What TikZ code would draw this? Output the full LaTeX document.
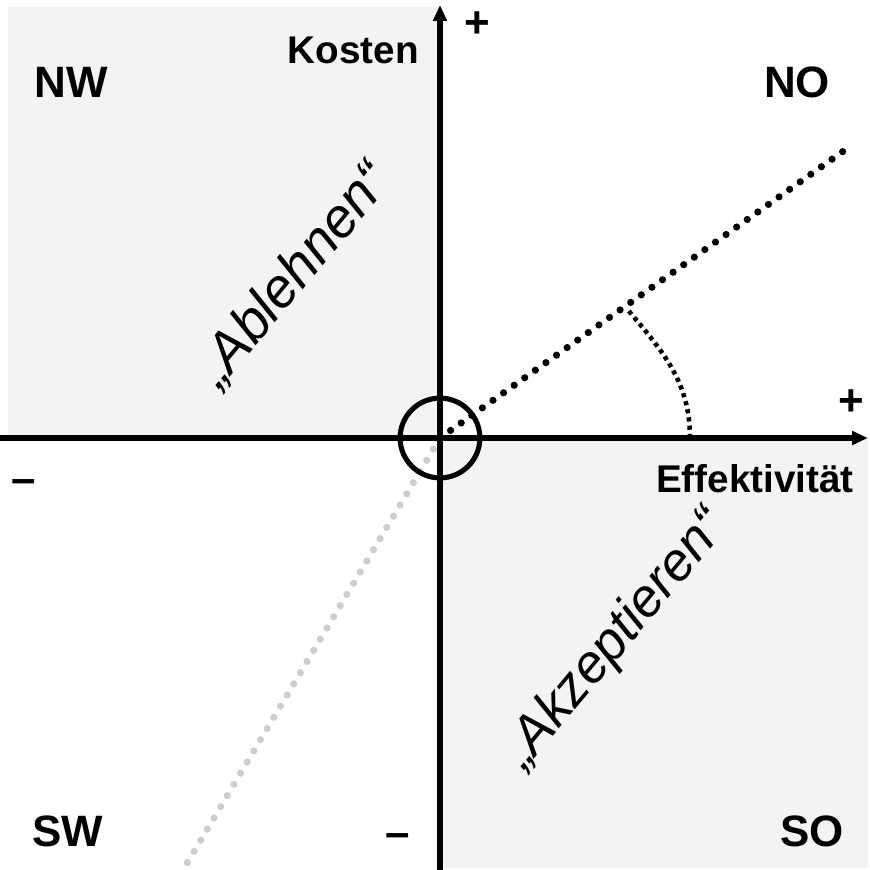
\documentclass[tikz,border=0pt]{standalone}
\usepackage{fontspec}
\setmainfont{Liberation Sans}
\usepackage{xcolor}
\usepackage{tikz}
\usetikzlibrary{arrows.meta,positioning,calc}
\definecolor{qgray}{HTML}{F3F3F3}
\definecolor{dgray}{HTML}{CDCDCD}
\tikzset{
 quadrant/.style={fill=qgray,draw=none},
 axis/.style={line width=3pt,draw=black,-{Triangle[length=9pt,width=7.5pt]}},
 origin/.style={circle,draw=black,line width=2.9pt,minimum size=45.4pt,inner sep=0pt},
 dotline/.style={line width=4.1pt,line cap=round,dash pattern=on 0pt off 7.4pt},
 arcline/.style={line width=2.6pt,dash pattern=on 2.4pt off 2.3pt},
 qlabel/.style={font=\fontsize{25}{25}\selectfont\bfseries,inner sep=0pt},
 alabel/.style={font=\fontsize{22}{22}\selectfont\bfseries,inner sep=0pt},
 slabel/.style={font=\fontsize{31.5}{31.5}\selectfont\itshape,inner sep=0pt,rotate=50}
}
\begin{document}
\begin{tikzpicture}[x=0.02cm,y=0.02cm]
 \useasboundingbox (-440,-432) rectangle (430,438);
 \fill[quadrant] (-432,0) rectangle (0,431);
 \fill[quadrant] (0,0) rectangle (428,-430);
 \coordinate (O) at (0,0);
 \coordinate (west) at (-440,0);
 \coordinate (east) at (428,0);
 \coordinate (south) at (0,-432);
 \coordinate (north) at (0,433);
 \coordinate (ideal) at (412,293);
 \coordinate (worst) at (-257,-432);
 \coordinate (arcstart) at (250,0);
 \coordinate (arcend) at (188,128);
 \draw[dotline,draw=dgray] (O) -- (worst);
 \draw[dotline,draw=black] (O) -- (ideal);
 \draw[arcline] (arcstart) to[out=90,in=-50] (arcend);
 \draw[axis] (west) -- (east);
 \draw[axis] (south) -- (north);
 \node[origin] (zero) at (O) {};
 \node[qlabel] (nw) at (-369,356) {NW};
 \node[qlabel] (no) at (357,356) {NO};
 \node[qlabel] (sw) at (-372,-393) {SW};
 \node[qlabel] (so) at (372,-393) {SO};
 \node[alabel,anchor=east] (kosten) at (-21,388) {Kosten};
 \node[alabel,anchor=east] (effekt) at (414,-41) {Effektivität};
 \node[qlabel] (yplus) at (37,413) {+};
 \node[qlabel] (xplus) at (411,35) {+};
 \node[qlabel] (xminus) at (-416,-49) {–};
 \node[qlabel] (yminus) at (-42,-403) {–};
 \node[slabel] (ablehnen) at (-146,163) {„Ablehnen“};
 \node[slabel,font=\fontsize{30.5}{30.5}\selectfont\itshape] (akzeptieren) at (176,-202) {„Akzeptieren“};
\end{tikzpicture}
\end{document}
